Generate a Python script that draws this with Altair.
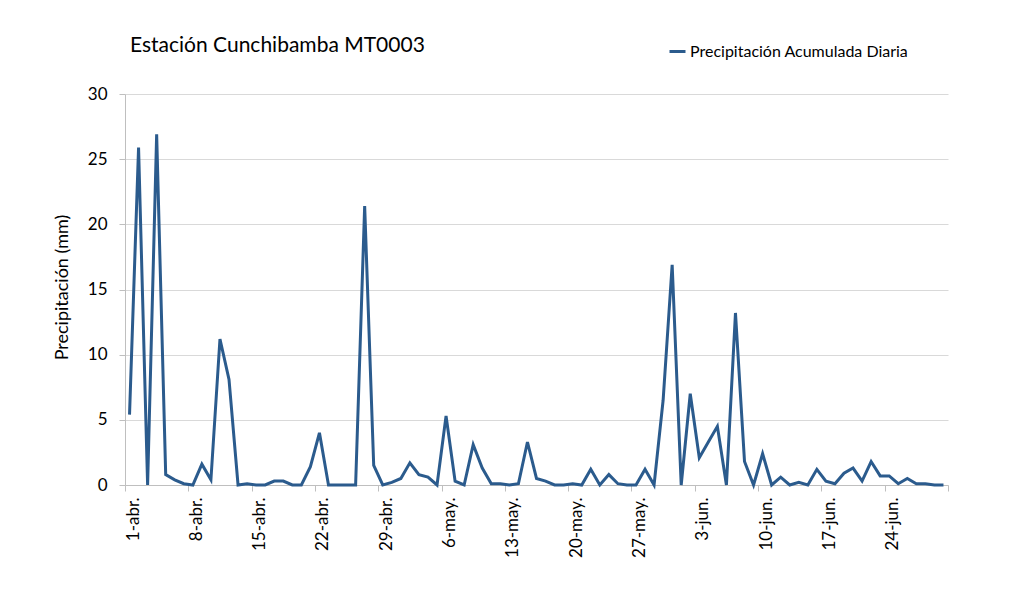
import altair as alt
import pandas as pd

# Daily precipitation (mm), 1-abr. .. 30-jun.
precip = [
    5.4, 25.9, 0.0, 26.9, 0.8, 0.4, 0.1, 0.0, 1.6, 0.4,
    11.2, 8.1, 0.0, 0.1, 0.0, 0.0, 0.3, 0.3, 0.0, 0.0,
    1.4, 4.0, 0.0, 0.0, 0.0, 0.0, 21.4, 1.5, 0.0, 0.2,
    0.5, 1.7, 0.8, 0.6, 0.0, 5.3, 0.3, 0.0, 3.1, 1.3,
    0.1, 0.1, 0.0, 0.1, 3.3, 0.5, 0.3, 0.0, 0.0, 0.1,
    0.0, 1.2, 0.0, 0.8, 0.1, 0.0, 0.0, 1.2, 0.0, 6.5,
    16.9, 0.0, 7.0, 2.1, 3.3, 4.5, 0.0, 13.2, 1.8, 0.0,
    2.4, 0.0, 0.6, 0.0, 0.2, 0.0, 1.2, 0.3, 0.1, 0.9,
    1.3, 0.3, 1.8, 0.7, 0.7, 0.1, 0.5, 0.1, 0.1, 0.0,
    0.0,
]
dias = list(range(len(precip)))
tick_labels = ["1-abr.", "8-abr.", "15-abr.", "22-abr.", "29-abr.", "6-may.",
               "13-may.", "20-may.", "27-may.", "3-jun.", "10-jun.", "17-jun.",
               "24-jun."]
serie = "Precipitación Acumulada Diaria"
titulo = "Estación Cunchibamba MT0003"
y_title = "Precipitación (mm)"

df = pd.DataFrame({"dia": dias, "precip": precip, "serie": serie})

tick_vals = [-0.5 + 7 * k for k in range(len(tick_labels) + 1)]
arr = "[" + ",".join("'" + t + "'" for t in tick_labels) + "]"
label_expr = (f"(datum.value + 0.5) / 7 < {len(tick_labels)} ? "
              f"{arr}[round((datum.value + 0.5) / 7)] : ''")

FONT = "Lato"
BLUE = "#2b5b8d"

chart = alt.Chart(df).mark_line(strokeWidth=3, color=BLUE).encode(
    x=alt.X(
        "dia:Q",
        scale=alt.Scale(domain=[-0.5, len(precip) - 0.5], nice=False, zero=False),
        axis=alt.Axis(
            title=None,
            values=tick_vals,
            labelExpr=label_expr,
            labelAngle=-90,
            labelAlign="right",
            labelBaseline="middle",
            labelOffset=8,
            labelPadding=6,
            labelFlush=False,
            labelOverlap=False,
            labelFontSize=17,
            labelColor="#000000",
            labelFont=FONT,
            tickSize=6,
            tickColor="#bfbfbf",
            domainColor="#bfbfbf",
            grid=False,
        ),
    ),
    y=alt.Y(
        "precip:Q",
        scale=alt.Scale(domain=[0, 30], nice=False),
        axis=alt.Axis(
            values=[0, 5, 10, 15, 20, 25, 30],
            title=y_title,
            titleFont=FONT,
            titleFontSize=18,
            titleFontWeight="normal",
            titleColor="#000000",
            titleX=-63,
            titleY=193,
            titleAngle=-90,
            titleAlign="center",
            titleBaseline="middle",
            labelFont=FONT,
            labelFontSize=17,
            labelColor="#000000",
            labelPadding=12,
            tickSize=6,
            tickColor="#bfbfbf",
            domainColor="#bfbfbf",
            gridColor="#d9d9d9",
        ),
    ),
    color=alt.Color(
        "serie:N",
        scale=alt.Scale(range=[BLUE]),
        legend=alt.Legend(
            title=None,
            orient="none",
            legendX=543,
            legendY=-52,
            symbolType="stroke",
            symbolSize=256,
            symbolStrokeWidth=3,
            labelFont=FONT,
            labelFontSize=16,
            labelColor="#000000",
            labelOffset=3,
            labelLimit=400,
            padding=0,
        ),
    ),
).properties(
    width=823,
    height=391,
    title=alt.TitleParams(
        text=titulo,
        font=FONT,
        fontSize=21,
        fontWeight="normal",
        color="#000000",
        anchor="start",
        frame="group",
        baseline="alphabetic",
        offset=0,
        dy=31,
        dx=5,
    ),
    autosize=alt.AutoSizeParams(type="none"),
    padding={"left": 117, "top": 86, "right": 60, "bottom": 90},
    background="white",
).configure_view(stroke=None)

chart.save("out.html", embed_options={"renderer": "svg", "actions": False})
